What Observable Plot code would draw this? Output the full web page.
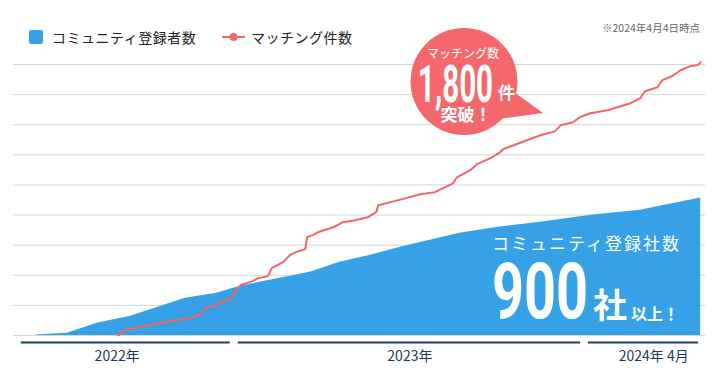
<!DOCTYPE html>
<html><head><meta charset="utf-8">
<script src="https://cdn.jsdelivr.net/npm/d3@7"></script>
<script src="https://cdn.jsdelivr.net/npm/@observablehq/plot@0.6"></script>
<style>
html,body{margin:0;padding:0;background:#fff;}
#chart{position:relative;width:722px;height:378px;}
</style>
</head><body>
<div id="chart"></div>
<script>
// Community registrations (companies)
const communityDates = ["2022-06-08","2022-07-11","2022-08-11","2022-09-15","2022-11-11","2022-12-14","2023-01-07","2023-03-21","2023-04-21","2023-05-23","2023-06-23","2023-08-24","2023-10-03","2023-11-14","2024-01-10","2024-02-28","2024-05-01"];
const communityValues = [3,15,82,128,248,281,327,420,487,533,586,679,719,750,800,832,914];
// Matching count
const matchingDates = ["2022-09-02","2022-09-11","2022-09-17","2022-10-26","2022-11-16","2022-11-27","2022-12-02","2022-12-14","2022-12-17","2022-12-30","2023-01-03","2023-01-08","2023-01-20","2023-01-26","2023-02-05","2023-02-09","2023-02-21","2023-02-28","2023-03-06","2023-03-16","2023-03-18","2023-03-26","2023-03-29","2023-04-14","2023-04-24","2023-05-07","2023-05-20","2023-05-29","2023-05-31","2023-06-21","2023-07-14","2023-07-29","2023-08-17","2023-08-21","2023-09-04","2023-09-11","2023-09-25","2023-10-05","2023-10-08","2023-11-02","2023-11-16","2023-12-01","2023-12-07","2023-12-20","2023-12-27","2024-01-07","2024-01-25","2024-02-18","2024-02-28","2024-03-04","2024-03-17","2024-03-22","2024-04-01","2024-04-10","2024-04-20","2024-04-28","2024-05-01"];
const matchingValues = [0,42,48,95,115,141,181,201,221,248,302,335,361,381,394,447,487,534,554,574,653,673,686,719,752,765,785,819,865,899,938,952,1011,1051,1098,1138,1178,1217,1237,1297,1330,1356,1396,1416,1450,1476,1496,1543,1576,1622,1649,1696,1722,1762,1789,1796,1815];
// Grid values
const gridValues = [0,200,400,600,800,1000,1200,1400,1600,1800];
// Period axis
const periodLabels = ["2022年","2023年","2024年 4月"];
const periodStarts = ["2022-05-20","2023-01-01","2024-01-01"];
const periodEnds = ["2023-01-01","2024-01-01","2024-05-03"];
const periodLabelDates = ["2022-09-01","2023-07-03","2024-03-13"];

const community = communityDates.map((d,i)=>({date:new Date(d), value:communityValues[i]}));
const matching = matchingDates.map((d,i)=>({date:new Date(d), value:matchingValues[i]}));
const periods = periodLabels.map((l,i)=>({label:l, start:new Date(periodStarts[i]), end:new Date(periodEnds[i]), at:new Date(periodLabelDates[i])}));

const BLUE = "#37a1e7", RED = "#f4646a", NAVY = "#1c3f6a";
const font = "'Noto Sans CJK JP', 'Noto Sans', sans-serif";

const svg = Plot.plot({
  width:722, height:378,
  marginTop:64, marginBottom:43, marginLeft:13, marginRight:17,
  style:{fontFamily:font, background:"#fff"},
  x:{type:"utc", domain:[new Date("2022-05-16"), new Date("2024-05-06")], axis:null},
  y:{domain:[0,1800], axis:null},
  marks:[
    Plot.ruleY(gridValues, {stroke:"#d6d6d6", strokeWidth:1}),
    Plot.areaY(community, {x:"date", y:"value", fill:BLUE}),
    Plot.line(matching, {x:"date", y:"value", stroke:RED, strokeWidth:2}),
    Plot.ruleY(periods, {y:d=>0, x1:"start", x2:"end", dy:7, insetLeft:4, insetRight:4, stroke:NAVY, strokeWidth:2}),
    Plot.text(periods, {x:"at", y:d=>0, dy:21, text:"label", fontSize:14, fill:"#1d3a5c"})
  ]
});
document.getElementById("chart").appendChild(svg);

// Annotations and legend
const g = d3.select(svg).append("g").attr("font-family", font).attr("text-anchor","start");
const txt = (x,y,size,s,opts={}) => {
  const t = g.append("text").attr("x",x).attr("y",y).attr("font-size",size).attr("fill",opts.fill||"#fff").attr("text-anchor",opts.anchor||"start").text(s);
  if (opts.weight) t.attr("font-weight",opts.weight);
  if (opts.ls) t.attr("letter-spacing",opts.ls);
  if (opts.family) t.attr("font-family",opts.family);
  if (opts.len) t.attr("textLength",opts.len).attr("lengthAdjust","spacingAndGlyphs");
  return t;
};
// legend
g.append("rect").attr("x",29).attr("y",30).attr("width",14).attr("height",14).attr("rx",2).attr("fill",BLUE);
txt(52,43,14,"コミュニティ登録者数",{fill:"#222", ls:0.5});
g.append("line").attr("x1",222).attr("x2",245).attr("y1",37).attr("y2",37).attr("stroke",RED).attr("stroke-width",2);
g.append("circle").attr("cx",233.5).attr("cy",37).attr("r",4).attr("fill",RED);
txt(251,43,14,"マッチング件数",{fill:"#222", ls:0.5});
// note
txt(700,32,10.5,"※2024年4月4日時点",{fill:"#666", anchor:"end"});
// bubble
const BUB = "#f4686b";
g.append("path").attr("d","M503,84 L543,113 L498,119 Z").attr("fill",BUB);
g.append("circle").attr("cx",464).attr("cy",81.5).attr("r",53.5).attr("fill",BUB);
txt(463,58,12,"マッチング数",{anchor:"middle"});
txt(418,102,52,"1,800",{weight:700, family:"Roboto, sans-serif", len:75});
txt(498,99,17,"件",{weight:700});
txt(466,121,17,"突破！",{weight:700, anchor:"middle"});
// community callout
txt(492,250,17,"コミュニティ登録社数",{ls:2});
txt(492,318,77,"900",{weight:700, family:"Roboto, sans-serif", len:96});
txt(593,318,34,"社",{weight:700});
txt(631,320,16,"以上！",{weight:700});
</script>
</body></html>
